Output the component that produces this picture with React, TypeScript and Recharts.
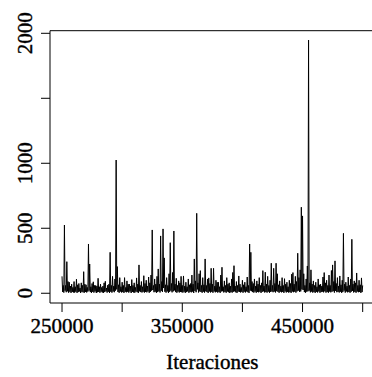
import React from 'react';
import { LineChart, Line, XAxis, YAxis, ReferenceArea } from 'recharts';

// Trace values (one per 500 iterations, 250000 .. 500000)
const traceValues: number[] = [
  130, 10, 60, 5, 525, 20, 60, 8, 243, 15, 90, 4, 85, 12, 55, 3, 70, 10, 45, 6,
  90, 5, 50, 12, 108, 3, 65, 9, 75, 14, 40, 2, 80, 11, 60, 7, 166, 4, 70, 10,
  65, 6, 45, 13, 379, 20, 225, 9, 50, 3, 75, 11, 88, 5, 60, 14, 60, 2, 55, 8,
  115, 10, 50, 4, 70, 12, 45, 6, 55, 3, 80, 9, 92, 15, 40, 5, 62, 11, 70, 2,
  315, 12, 60, 5, 130, 14, 55, 8, 110, 20, 1025, 30, 205, 10, 65, 4, 120, 13, 50, 6,
  85, 9, 60, 3, 120, 11, 45, 7, 95, 12, 70, 5, 70, 14, 55, 2, 105, 10, 60, 6,
  80, 4, 45, 13, 118, 8, 70, 3, 218, 15, 60, 9, 90, 6, 50, 12, 135, 5, 75, 10,
  100, 7, 55, 14, 125, 4, 80, 11, 140, 20, 487, 25, 60, 8, 110, 12, 70, 3, 130, 9,
  187, 15, 70, 6, 441, 18, 90, 10, 495, 40, 272, 12, 65, 5, 120, 14, 60, 3, 150, 11,
  389, 20, 75, 7, 160, 15, 479, 22, 70, 9, 115, 4, 60, 13, 95, 6, 80, 10, 130, 8,
  60, 5, 133, 12, 55, 3, 85, 9, 50, 14, 110, 4, 65, 11, 75, 7, 140, 13, 70, 2,
  264, 18, 95, 8, 615, 30, 80, 6, 150, 14, 174, 10, 60, 4, 120, 12, 65, 5, 264, 15,
  60, 9, 110, 3, 118, 13, 75, 6, 192, 11, 70, 4, 192, 14, 55, 7, 100, 12, 85, 5,
  85, 10, 50, 3, 140, 14, 200, 16, 50, 6, 95, 11, 60, 4, 120, 13, 70, 8, 80, 2,
  55, 9, 110, 5, 160, 12, 212, 15, 55, 7, 90, 3, 60, 13, 133, 10, 70, 6, 45, 11,
  100, 4, 65, 12, 85, 6, 50, 14, 125, 8, 60, 3, 379, 20, 315, 16, 90, 9, 75, 5,
  110, 13, 55, 4, 95, 10, 70, 7, 120, 12, 60, 3, 80, 11, 174, 15, 55, 6, 162, 9,
  70, 5, 130, 12, 60, 4, 100, 10, 231, 14, 60, 8, 192, 13, 75, 6, 231, 16, 150, 11,
  65, 4, 95, 12, 55, 7, 120, 10, 60, 3, 112, 14, 70, 6, 85, 11, 50, 5, 100, 9,
  75, 3, 147, 13, 159, 8, 70, 12, 130, 5, 90, 15, 308, 20, 120, 10, 180, 14, 662, 30,
  595, 25, 150, 9, 60, 4, 110, 12, 210, 15, 1948, 20, 80, 7, 180, 13, 70, 5, 95, 10,
  60, 3, 85, 11, 50, 6, 110, 14, 65, 4, 70, 9, 55, 12, 125, 7, 159, 15, 80, 5,
  100, 10, 60, 4, 140, 13, 60, 7, 175, 12, 218, 16, 90, 5, 249, 18, 75, 8, 120, 11,
  55, 6, 133, 12, 65, 3, 100, 9, 461, 20, 70, 5, 85, 14, 55, 7, 125, 10, 60, 4,
  110, 12, 415, 18, 70, 6, 95, 11, 80, 4, 156, 13, 60, 8, 100, 10, 65, 3, 118, 9,
  60,
];

const firstIteration = 250000;
const iterationStep = 500;

const xTicks: number[] = [250000, 300000, 350000, 400000, 450000, 500000];
const xTickLabelsShown: number[] = [250000, 350000, 450000];
const yTicks: number[] = [0, 500, 1000, 1500, 2000];
const yTickLabelsShown: number[] = [0, 500, 1000, 2000];

const xDomain: [number, number] = [240000, 510000];
const yDomain: [number, number] = [-75, 2020];

const xLabel = 'Iteraciones';

const data = traceValues.map((v, i) => ({ iter: firstIteration + iterationStep * i, value: v }));

const FONT = '"Liberation Serif", "Times New Roman", serif';
const FS = 21;
const TEXT_STROKE = 0.4;

const XTick = (props: any) => {
  const { x, payload } = props;
  if (!xTickLabelsShown.includes(payload.value)) return null;
  return (
    <text
      x={x}
      y={333}
      textAnchor="middle"
      fontFamily={FONT}
      fontSize={FS}
      fill="#000"
      stroke="#000"
      strokeWidth={TEXT_STROKE}
    >
      {String(payload.value)}
    </text>
  );
};

const YTick = (props: any) => {
  const { y, payload } = props;
  if (!yTickLabelsShown.includes(payload.value)) return null;
  const bx = 32;
  return (
    <text
      x={bx}
      y={y}
      textAnchor="middle"
      fontFamily={FONT}
      fontSize={FS}
      fill="#000"
      stroke="#000"
      strokeWidth={TEXT_STROKE}
      transform={`rotate(-90, ${bx}, ${y})`}
    >
      {String(payload.value)}
    </text>
  );
};

const XTitle = (props: any) => {
  const { viewBox } = props;
  const cx = viewBox.x + viewBox.width / 2;
  return (
    <text
      x={cx}
      y={369}
      textAnchor="middle"
      fontFamily={FONT}
      fontSize={FS}
      fill="#000"
      stroke="#000"
      strokeWidth={TEXT_STROKE}
    >
      {xLabel}
    </text>
  );
};

export default function App() {
  return (
    <div
      style={{
        position: 'absolute',
        left: 0,
        top: 0,
        width: 372,
        height: 377,
        overflow: 'hidden',
        background: '#fff',
      }}
    >
      <LineChart
        width={380}
        height={377}
        data={data}
        margin={{ top: 30.7, right: 5.3, bottom: 0, left: 0 }}
      >
        <XAxis
          dataKey="iter"
          type="number"
          domain={xDomain}
          ticks={xTicks}
          allowDataOverflow
          height={74}
          tickSize={9}
          tickLine={{ stroke: '#000', strokeWidth: 1 }}
          axisLine={false}
          tick={<XTick />}
          interval={0}
          label={<XTitle />}
        />
        <YAxis
          type="number"
          domain={yDomain}
          ticks={yTicks}
          allowDataOverflow
          width={50}
          tickSize={9}
          tickLine={{ stroke: '#000', strokeWidth: 1 }}
          axisLine={false}
          tick={<YTick />}
          interval={0}
        />
        <ReferenceArea
          x1={xDomain[0]}
          x2={xDomain[1]}
          y1={yDomain[0]}
          y2={yDomain[1]}
          fill="none"
          stroke="#000"
          strokeWidth={1}
          ifOverflow="visible"
        />
        <Line
          dataKey="value"
          stroke="#000"
          strokeWidth={1}
          dot={false}
          isAnimationActive={false}
          type="linear"
        />
      </LineChart>
    </div>
  );
}
